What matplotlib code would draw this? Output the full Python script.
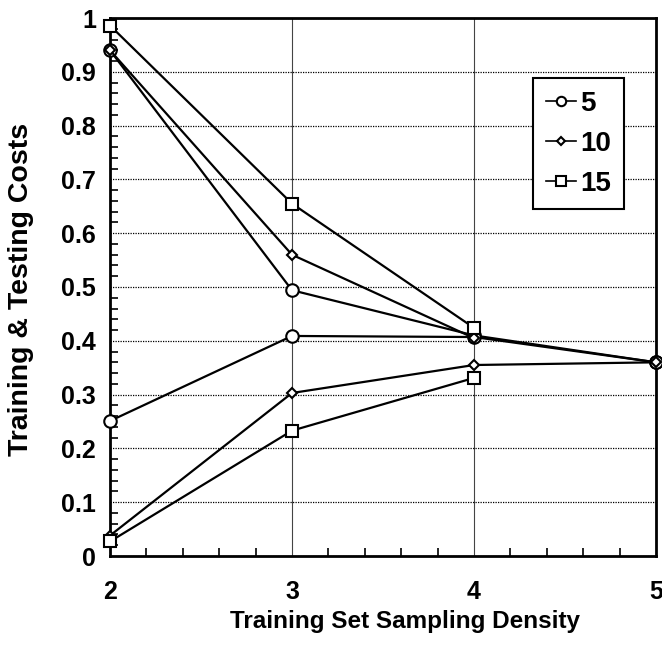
import matplotlib
matplotlib.use("Agg")
import matplotlib.pyplot as plt
from matplotlib.ticker import MultipleLocator

plt.rcParams['font.family'] = ['Liberation Sans', 'DejaVu Sans']
plt.rcParams['font.weight'] = 'bold'

density = [2, 3, 4, 5]

test_5 = [0.94, 0.494, 0.41, 0.36]
train_5 = [0.251, 0.409, 0.407, 0.36]
test_10 = [0.94, 0.56, 0.405]
train_10 = [0.038, 0.303, 0.355, 0.36]
test_15 = [0.986, 0.655, 0.424]
train_15 = [0.027, 0.233, 0.331]

labels = ["5", "10", "15"]
ytick_labels = ["0", "0.1", "0.2", "0.3", "0.4", "0.5", "0.6", "0.7", "0.8", "0.9", "1"]
yticks = [0, 0.1, 0.2, 0.3, 0.4, 0.5, 0.6, 0.7, 0.8, 0.9, 1.0]

fig = plt.figure(figsize=(6.62, 6.49), dpi=100)
ax = fig.add_axes([110/662, 1 - 556/649, 546/662, 538/649])

lw = 1.6
styles = [
    dict(marker='o', ms=9, mfc='white', mec='black', mew=1.5),
    dict(marker='D', ms=5, mfc='white', mec='black', mew=1.5),
    dict(marker='s', ms=9, mfc='white', mec='black', mew=1.5),
]
series = [(test_5, train_5), (test_10, train_10), (test_15, train_15)]
for (te, tr), st, lab in zip(series, styles, labels):
    ax.plot(density[:len(te)], te, color='black', lw=lw, label=lab, zorder=3,
            clip_on=False, **st)
    ax.plot(density[:len(tr)], tr, color='black', lw=lw, zorder=3,
            clip_on=False, **st)

ax.set_xlim(2, 5)
ax.set_ylim(0, 1)
ax.xaxis.set_major_locator(MultipleLocator(1))
ax.xaxis.set_minor_locator(MultipleLocator(0.2))
ax.yaxis.set_minor_locator(MultipleLocator(0.02))
ax.set_yticks(yticks)
ax.set_yticklabels(ytick_labels)

ax.grid(True, axis='y', which='major', linestyle=(0, (1, 1)), color='black', lw=0.9)
ax.grid(True, axis='x', which='major', linestyle='-', color='#444444', lw=0.8)
ax.tick_params(which='both', direction='in', top=False, right=False, labelsize=18)
ax.tick_params(axis='y', which='major', length=0, pad=10)
ax.tick_params(axis='x', which='major', length=0, pad=17)
ax.tick_params(which='minor', length=6, width=1.2)
for s in ax.spines.values():
    s.set_linewidth(2)
    s.set_color('black')

ax.set_xlabel("Training Set Sampling Density", fontsize=17.5, fontweight='bold')
ax.xaxis.set_label_coords(0.54, -0.1)
ax.set_ylabel("Training & Testing Costs", fontsize=20.5, fontweight='bold')
ax.yaxis.set_label_coords(-0.14, 0.495)

leg = ax.legend(loc='upper left', bbox_to_anchor=(0.775, 0.888), frameon=True,
                fancybox=False, edgecolor='black', fontsize=20, handlelength=1.1,
                handletextpad=0.15, borderpad=0.45, labelspacing=0.5,
                borderaxespad=0, framealpha=1)
leg.get_frame().set_linewidth(1.5)
for h in leg.get_lines():
    h.set_linewidth(1.2)
    h.set_markersize(h.get_markersize() * 0.75)

fig.savefig("out.png", dpi=100)
